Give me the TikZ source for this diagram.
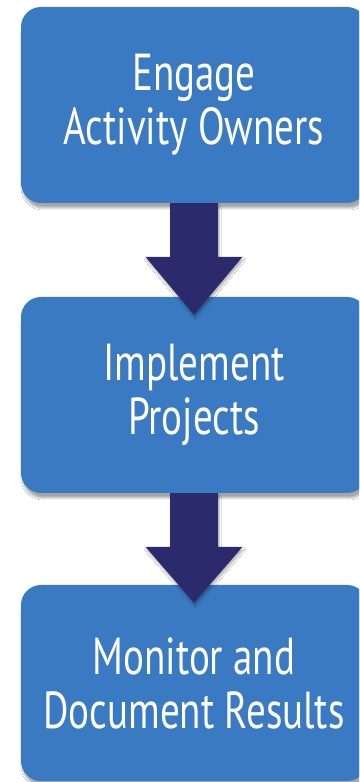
\documentclass[tikz,border=0pt]{standalone}
\usepackage{fontspec}
\setmainfont{PT Sans}[FakeStretch=0.75]
\usetikzlibrary{shadows.blur,calc}
\definecolor{boxblue}{RGB}{58,122,195}
\definecolor{navyc}{RGB}{43,42,108}
\begin{document}
\begin{tikzpicture}[x=1pt,y=1pt,
  stepbox/.style={draw=none, fill=boxblue, rounded corners=20pt,
    minimum width=346pt, minimum height=196pt, text=white, align=center,
    font=\fontsize{52}{54}\selectfont, inner sep=0pt,
    blur shadow={shadow xshift=2pt, shadow yshift=-5pt, shadow opacity=35, shadow blur steps=10}},
  flowarrow/.style={fill=navyc,
    blur shadow={shadow xshift=1pt, shadow yshift=-3pt, shadow opacity=30, shadow blur steps=6}}]
\useasboundingbox (0,0) rectangle (359,782);
\clip (0,0) rectangle (359,782);
\fill[white] (0,0) rectangle (359,782);
\node[stepbox] (b1) at (194,677) {Engage\\Activity Owners};
\node[stepbox] (b2) at (194,387) {Implement\\Projects};
\node[stepbox] (b3) at (194,99) {Monitor and\\Document Results};
\fill[flowarrow] ($(b1.south)+(-24,0)$) -- ($(b1.south)+(24,0)$)
  -- ($(b2.north)+(24,40)$) -- ($(b2.north)+(48.5,40)$)
  -- ($(b2.north)+(0,-18)$)
  -- ($(b2.north)+(-48.5,40)$) -- ($(b2.north)+(-24,40)$) -- cycle;
\fill[flowarrow] ($(b2.south)+(-24,0)$) -- ($(b2.south)+(24,0)$)
  -- ($(b3.north)+(24,38)$) -- ($(b3.north)+(48.5,38)$)
  -- ($(b3.north)+(0,-18)$)
  -- ($(b3.north)+(-48.5,38)$) -- ($(b3.north)+(-24,38)$) -- cycle;
\end{tikzpicture}
\end{document}
